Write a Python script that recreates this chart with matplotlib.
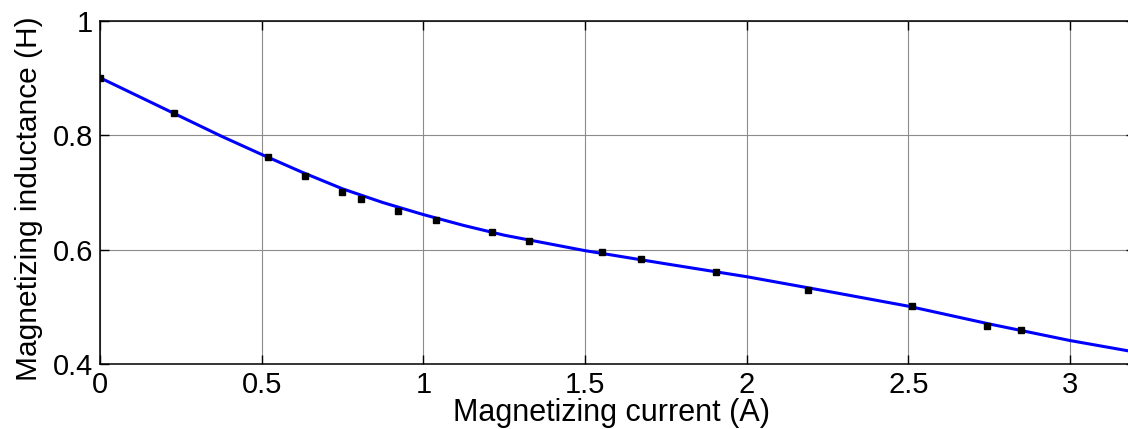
import matplotlib
matplotlib.use("Agg")
import matplotlib.pyplot as plt

# Measured data points
current = [0.0, 0.229, 0.521, 0.634, 0.748, 0.807, 0.923, 1.038, 1.211, 1.327,
           1.552, 1.673, 1.905, 2.191, 2.510, 2.743, 2.849]
inductance = [0.900, 0.838, 0.761, 0.729, 0.700, 0.688, 0.668, 0.652, 0.630, 0.615,
              0.595, 0.583, 0.5605, 0.530, 0.501, 0.467, 0.460]

# Fitted curve
fit_current = [0.0, 0.125, 0.25, 0.375, 0.5, 0.625, 0.75, 0.875, 1.0, 1.125, 1.25, 1.5,
               1.75, 2.0, 2.25, 2.5, 2.75, 3.0, 3.2]
fit_inductance = [0.900, 0.866, 0.832, 0.798, 0.766, 0.735, 0.706, 0.682, 0.661, 0.642,
                  0.625, 0.598, 0.575, 0.5525, 0.527, 0.501, 0.470, 0.441, 0.421]

xticks = [0, 0.5, 1, 1.5, 2, 2.5, 3]
xtick_labels = ["0", "0.5", "1", "1.5", "2", "2.5", "3"]
yticks = [0.4, 0.6, 0.8, 1.0]
ytick_labels = ["0.4", "0.6", "0.8", "1"]

plt.rcParams['font.family'] = ['Liberation Sans', 'DejaVu Sans']

W, H = 1128, 429
fig = plt.figure(figsize=(W / 100, H / 100), dpi=100)
left_px, right_px, top_px, bottom_px = 100, 1134.6, 20.5, 364
ax = fig.add_axes([left_px / W, 1 - bottom_px / H,
                   (right_px - left_px) / W, (bottom_px - top_px) / H])

ax.plot(fit_current, fit_inductance, color='#0000ff', lw=2.2, zorder=3)
ax.plot(current, inductance, 's', color='black', markersize=4.0, zorder=4)

ax.set_xlim(0, 3.2)
ax.set_ylim(0.4, 1.0)
ax.set_xticks(xticks)
ax.set_xticklabels(xtick_labels)
ax.set_yticks(yticks)
ax.set_yticklabels(ytick_labels)

ax.grid(True, color='#8c8c8c', lw=0.8, ls='-')
ax.set_axisbelow(True)

ax.tick_params(direction='in', length=6.5, width=1.0, top=True, right=True,
               labelsize=21, colors='black')
ax.tick_params(axis='x', pad=5)
ax.tick_params(axis='y', pad=5)
for s in ax.spines.values():
    s.set_linewidth(1.1)
    s.set_color('black')

ax.set_xlabel("Magnetizing current (A)", fontsize=22)
ax.set_ylabel("Magnetizing inductance (H)", fontsize=21.5)
ax.xaxis.set_label_coords(0.494, -0.10)
ax.yaxis.set_label_coords(-0.055, 0.48)

fig.savefig("out.png", dpi=100)
